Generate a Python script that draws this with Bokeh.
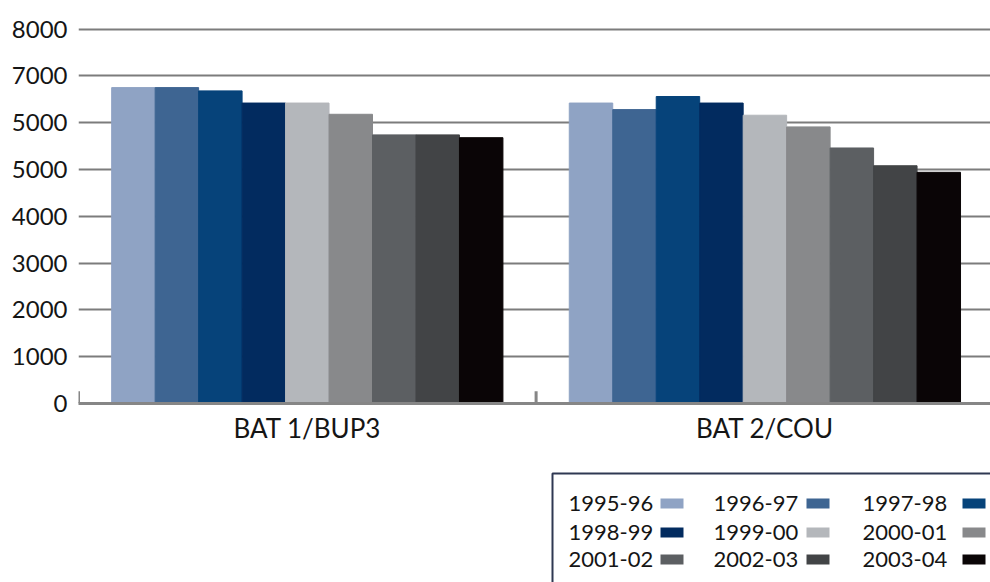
from bokeh.plotting import figure
from bokeh.models import Range1d, FixedTicker, ColumnDataSource
from bokeh.layouts import column
from bokeh.core.properties import value
from bokeh.embed import file_html
from bokeh.resources import INLINE

# ---- data ----
categories = ["BAT 1/BUP3", "BAT 2/COU"]
years = ["1995-96", "1996-97", "1997-98", "1998-99", "1999-00",
         "2000-01", "2001-02", "2002-03", "2003-04"]
bat1_bup3 = [6750, 6750, 6680, 6420, 6420, 6180, 5740, 5740, 5680]
bat2_cou = [6420, 6280, 6560, 6420, 6160, 5910, 5460, 5080, 4940]
colors = ["#8fa3c4", "#3e6592", "#06437a", "#022b5f", "#b4b7bb",
          "#88898b", "#5c5f62", "#424446", "#0a0506"]
y_ticks = [0, 1000, 2000, 3000, 4000, 5000, 6000, 7000, 8000]
y_tick_labels = ["0", "1000", "2000", "3000", "4000", "5000", "5000", "7000", "8000"]

FONT = "Lato"
TXT = "#151515"
GRID = "#7c7c7c"
AXIS = "#868686"

n = len(years)
bar_w = 0.095
xs, tops, cols = [], [], []
for ci, series in enumerate([bat1_bup3, bat2_cou]):
    center = ci + 0.5
    for i, v in enumerate(series):
        xs.append(center + (i - (n - 1) / 2) * bar_w)
        tops.append(v)
        cols.append(colors[i])
src = ColumnDataSource(dict(x=xs, top=tops, color=cols))

p = figure(width=990, height=460, output_backend="svg", toolbar_location=None,
           x_range=Range1d(0, 1.993), y_range=Range1d(0, 8184),
           min_border_left=78, min_border_right=0, min_border_top=20,
           min_border_bottom=57)
p.outline_line_color = None
p.background_fill_color = "white"

p.vbar(x="x", top="top", width=bar_w, bottom=0, color="color", source=src)

# boundary ticks on the baseline
p.segment(x0=[0, 1], x1=[0, 1], y0=[0, 0], y1=[260, 260],
          line_color=AXIS, line_width=3)

# axes
p.xgrid.visible = False
p.ygrid.ticker = FixedTicker(ticks=y_ticks)
p.ygrid.grid_line_color = GRID
p.ygrid.grid_line_width = 2

ya = p.yaxis[0]
ya.ticker = FixedTicker(ticks=y_ticks)
ya.major_label_overrides = {t: l for t, l in zip(y_ticks, y_tick_labels)}
ya.axis_line_color = None
ya.major_tick_line_color = None
ya.minor_tick_line_color = None
ya.major_tick_out = 0
ya.major_tick_in = 0
ya.major_label_standoff = 11
ya.major_label_text_font = FONT
ya.major_label_text_font_size = "24px"
ya.major_label_text_color = TXT

xa = p.xaxis[0]
xa.ticker = FixedTicker(ticks=[0.5, 1.5])
xa.major_label_overrides = {0.5: categories[0], 1.5: categories[1]}
xa.axis_line_color = AXIS
xa.axis_line_width = 3
xa.major_tick_line_color = None
xa.minor_tick_line_color = None
xa.major_tick_out = 0
xa.major_tick_in = 0
xa.major_label_standoff = 8
xa.major_label_text_font = FONT
xa.major_label_text_font_size = "26px"
xa.major_label_text_color = TXT

# ---- legend (drawn in page-like coordinates) ----
leg = figure(width=990, height=122, output_backend="svg", toolbar_location=None,
             x_range=Range1d(78, 990), y_range=Range1d(582, 460),
             x_axis_location=None, y_axis_location=None,
             min_border_left=78, min_border_right=0,
             min_border_top=0, min_border_bottom=0)
leg.grid.visible = False
leg.outline_line_color = None

leg.quad(left=[552], right=[1010], top=[473], bottom=[600],
         fill_color=None, line_color="#2f3852", line_width=2)

col_text_x = [568, 713, 862]
col_sw_x = [660, 806, 962]
row_y = [503, 532, 559]
lt_x, lt_y, lt_t, sw_l, sw_r, sw_t, sw_b, sw_c = [], [], [], [], [], [], [], []
for k, yr in enumerate(years):
    r, c = divmod(k, 3)
    lt_x.append(col_text_x[c]); lt_y.append(row_y[r]); lt_t.append(yr)
    sw_l.append(col_sw_x[c]); sw_r.append(col_sw_x[c] + 23)
    sw_t.append(row_y[r] - 5); sw_b.append(row_y[r] + 5)
    sw_c.append(colors[k])
leg.text(x=lt_x, y=lt_y, text=lt_t, text_font=value(FONT), text_font_size="22px",
         text_color=TXT, text_baseline="middle", text_align="left")
leg.quad(left=sw_l, right=sw_r, top=sw_t, bottom=sw_b, fill_color=sw_c,
         line_color=None)

layout = column(p, leg, spacing=0)
open("out.html", "w").write(file_html(layout, INLINE))
